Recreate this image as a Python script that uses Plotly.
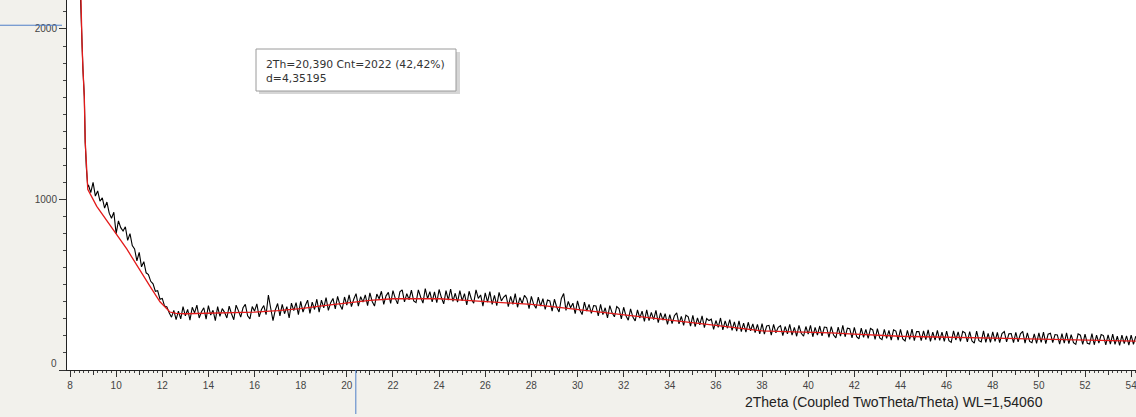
import plotly.graph_objects as go

# ---------------- data ----------------
steep_tt = [8.40, 8.46, 8.52, 8.56, 8.62, 8.66, 8.71, 8.77]
steep_cnt = [2600, 2170, 1925, 1765, 1605, 1335, 1185, 1075]

scan_start = 8.8
scan_step = 0.1
scan_cnt = [
    1085, 1040, 1100, 1020, 1050, 990, 1010, 950, 985, 920,   # 8.8-9.7
    890, 925, 800, 875, 835, 815, 840, 760, 800, 730,         # 9.8-10.7
    710, 640, 690, 605, 635, 570, 560, 520, 505, 462,         # 10.8-11.7
    465, 415, 420, 375, 370, 335, 310, 350, 295, 345,         # 11.8-12.7
    300, 372, 318, 355, 292, 368, 335, 380, 305, 342,         # 12.8-13.7
    365, 298, 378, 322, 350, 290, 372, 315, 360, 338,         # 13.8-14.7
    305, 375, 330, 295, 380, 348, 310, 365, 385, 318,         # 14.8-15.7
    300, 372, 345, 388, 312, 355, 378, 325, 440, 362,         # 15.8-16.7
    290, 352, 390, 318, 385, 330, 372, 305, 392, 348,         # 16.8-17.7
    395, 325, 402, 340, 378, 410, 332, 398, 355, 415,         # 17.8-18.7
    340, 410, 365, 425, 350, 395, 420, 358, 432, 382,         # 18.8-19.7
    355, 428, 380, 440, 372, 415, 448, 375, 430, 398,         # 19.8-20.7
    440, 378, 452, 402, 375, 445, 418, 462, 385, 435,         # 20.8-21.7
    455, 390, 465, 420, 388, 458, 470, 400, 448, 412,         # 21.8-22.7
    468, 405, 395, 470, 428, 392, 478, 418, 460, 400,         # 22.8-23.7
    458, 395, 472, 425, 388, 465, 410, 475, 402, 450,         # 23.8-24.7
    398, 465, 405, 448, 382, 462, 415, 392, 470, 420,         # 24.8-25.7
    440, 375, 452, 398, 460, 385, 438, 378, 455, 405,         # 25.8-26.7
    428, 440, 372, 432, 385, 448, 368, 425, 390, 438,         # 26.8-27.7
    420, 360, 432, 385, 362, 428, 375, 418, 355, 410,         # 27.8-28.7
    405, 345, 415, 368, 340, 420, 448, 350, 402, 365,         # 28.8-29.7
    392, 330, 405, 352, 325, 398, 345, 385, 332, 378,         # 29.8-30.7
    375, 318, 385, 325, 365, 305, 378, 335, 312, 372,         # 30.8-31.7
    360, 300, 368, 318, 292, 358, 310, 288, 352, 305,         # 31.8-32.7
    345, 285, 352, 290, 338, 295, 350, 278, 335, 292,         # 32.8-33.7
    330, 268, 325, 272, 318, 335, 270, 315, 262, 322,         # 33.8-34.7
    312, 258, 320, 255, 305, 265, 318, 248, 302, 290,         # 34.8-35.7
    298, 238, 290, 250, 305, 235, 288, 245, 295, 232,         # 35.8-36.7
    282, 228, 288, 225, 275, 222, 280, 230, 270, 220,         # 36.8-37.7
    268, 212, 272, 210, 258, 262, 205, 268, 218, 250,         # 37.8-38.7
    260, 202, 255, 212, 268, 205, 250, 198, 262, 215,         # 38.8-39.7
    198, 255, 210, 262, 195, 250, 205, 258, 200, 252,         # 39.8-40.7
    250, 192, 255, 205, 188, 252, 198, 262, 195, 245,         # 40.8-41.7
    242, 188, 250, 195, 182, 245, 192, 238, 185, 244,         # 41.8-42.7
    235, 180, 242, 188, 178, 238, 185, 232, 175, 236,         # 42.8-43.7
    228, 175, 238, 182, 170, 232, 180, 240, 172, 226,         # 43.8-44.7
    225, 172, 230, 178, 235, 168, 222, 175, 232, 174,         # 44.8-45.7
    222, 168, 228, 172, 162, 230, 176, 224, 168, 226,         # 45.8-46.7
    218, 165, 225, 170, 158, 228, 172, 165, 230, 162,         # 46.8-47.7
    215, 162, 224, 168, 220, 160, 214, 226, 165, 212,         # 47.8-48.7
    214, 160, 220, 165, 212, 226, 158, 218, 168, 160,         # 48.8-49.7
    212, 156, 218, 162, 222, 154, 210, 216, 160, 208,         # 49.8-50.7
    206, 152, 214, 158, 218, 154, 208, 160, 150, 212,         # 50.8-51.7
    204, 150, 210, 156, 152, 214, 148, 205, 158, 208,         # 51.8-52.7
    202, 148, 206, 152, 210, 150, 198, 145, 205, 155,         # 52.8-53.7
    200, 146, 205, 150, 198,                                  # 53.8-54.2
]

fit_tt = [8.40, 8.46, 8.52, 8.56, 8.62, 8.66, 8.71, 8.77, 9.16, 10.46, 11.47,
          11.90, 12.33, 12.6, 13, 14, 15, 16, 17, 18, 19, 20, 21, 22, 23, 24,
          25, 26, 27, 28, 29, 30, 31, 32, 33, 34, 35, 36, 37, 38, 39, 40, 41,
          42, 43, 44, 45, 46, 47, 48, 49, 50, 51, 52, 53, 54, 54.2]
fit_cnt = [2600, 2170, 1920, 1770, 1600, 1340, 1180, 1060, 960, 710, 490,
           400, 340, 332, 330, 332, 336, 340, 348, 360, 378, 395, 408, 418, 420, 418,
           410, 402, 395, 385, 370, 355, 340, 325, 310, 292, 280, 262, 245, 230, 225, 222, 218,
           210, 203, 198, 195, 192, 189, 187, 185, 182, 179, 176, 173, 170, 169]

x_ticks = [8, 10, 12, 14, 16, 18, 20, 22, 24, 26, 28, 30, 32, 34, 36, 38,
           40, 42, 44, 46, 48, 50, 52, 54]
y_ticks = [0, 1000, 2000]
y_tick_text = ["", "1000", "2000"]

cursor_tt = 20.390
cursor_cnt = 2022
readout_lines = ["2Th=20,390 Cnt=2022 (42,42%)", "d=4,35195"]
x_title = "2Theta (Coupled TwoTheta/Theta) WL=1,54060"

# ---------------- build ----------------
scan_tt = [round(scan_start + scan_step * i, 2) for i in range(len(scan_cnt))]
meas_tt = steep_tt + scan_tt
meas_cnt = steep_cnt + scan_cnt

W, H = 1136, 417
ML, MB = 67, 47
PW, PH = W - ML, H - MB


def px(x):
    return (x - ML) / PW


def py(y):
    return 1 - y / PH


fig = go.Figure()
fig.add_trace(go.Scatter(x=meas_tt, y=meas_cnt, mode="lines",
                         line=dict(color="#000000", width=1.1, simplify=False),
                         hoverinfo="skip", showlegend=False))
fig.add_trace(go.Scatter(x=fit_tt, y=fit_cnt, mode="lines",
                         line=dict(color="#e31a1a", width=1.3),
                         hoverinfo="skip", showlegend=False))
# helper trace for the secondary (1-degree) tick axis
fig.add_trace(go.Scatter(x=[30], y=[0], xaxis="x2", mode="markers",
                         marker=dict(opacity=0), hoverinfo="skip", showlegend=False))

tick_font = dict(family="Liberation Sans, Arial, sans-serif", size=10, color="#444444")

fig.update_layout(
    width=W, height=H,
    margin=dict(l=ML, r=0, t=0, b=MB, pad=0),
    paper_bgcolor="#f2f1ec",
    plot_bgcolor="#ffffff",
    showlegend=False,
    hovermode=False,
    xaxis=dict(range=[7.87, 54.21], tickmode="array", tickvals=x_ticks,
               ticks="outside", ticklen=6, tickwidth=1, tickcolor="#333333",
               showline=True, linecolor="#222222", linewidth=1,
               showgrid=False, zeroline=False, tickfont=tick_font,
               ticklabeloverflow="allow",
               minor=dict(dtick=0.2, tick0=8, ticks="outside", ticklen=2,
                          tickcolor="#444444", showgrid=False)),
    xaxis2=dict(range=[7.87, 54.21], overlaying="x", anchor="y", side="bottom",
                dtick=1, tick0=8, ticks="outside", ticklen=4, tickcolor="#333333",
                showticklabels=False, showgrid=False, zeroline=False, showline=False),
    yaxis=dict(range=[0, 2170], tickmode="array", tickvals=y_ticks, ticktext=y_tick_text,
               ticks="outside", ticklen=7, tickwidth=1, tickcolor="#333333",
               showline=True, linecolor="#222222", linewidth=1,
               showgrid=False, zeroline=False, tickfont=tick_font,
               minor=dict(dtick=100, tick0=0, ticks="outside", ticklen=3,
                          tickcolor="#444444", showgrid=False)),
)

shapes = [
    # cursor lines in the margins
    dict(type="line", xref="paper", yref="y", x0=px(0), x1=px(62),
         y0=cursor_cnt, y1=cursor_cnt, line=dict(color="#4f7fc8", width=1)),
    dict(type="line", xref="x", yref="paper", x0=cursor_tt, x1=cursor_tt,
         y0=py(370), y1=py(414), line=dict(color="#4f7fc8", width=1)),
    # readout box shadow and box
    dict(type="rect", xref="paper", yref="paper", x0=px(259), x1=px(460),
         y0=py(94), y1=py(52), fillcolor="rgba(0,0,0,0.16)", line=dict(width=0)),
    dict(type="rect", xref="paper", yref="paper", x0=px(256), x1=px(456),
         y0=py(91), y1=py(49), fillcolor="#ffffff",
         line=dict(color="#9a9a9a", width=1)),
]
fig.update_layout(shapes=shapes)

readout_font = dict(family="DejaVu Sans, Verdana, sans-serif", size=10.8, color="#333333")
annotations = [
    dict(text=readout_lines[0], xref="paper", yref="paper", x=px(264), y=py(64),
         xanchor="left", yanchor="middle", showarrow=False, font=readout_font),
    dict(text=readout_lines[1], xref="paper", yref="paper", x=px(264), y=py(78),
         xanchor="left", yanchor="middle", showarrow=False, font=readout_font),
    dict(text="0", xref="paper", yref="y", x=px(59), y=0, yshift=7,
         xanchor="right", yanchor="middle", showarrow=False, font=tick_font),
    dict(text=x_title, xref="paper", yref="paper", x=px(743), y=py(402),
         xanchor="left", yanchor="middle", showarrow=False,
         font=dict(family="Liberation Sans, Arial, sans-serif", size=14, color="#222222")),
]
fig.update_layout(annotations=annotations)

fig.write_html("out.html", config=dict(displayModeBar=False, staticPlot=True))
